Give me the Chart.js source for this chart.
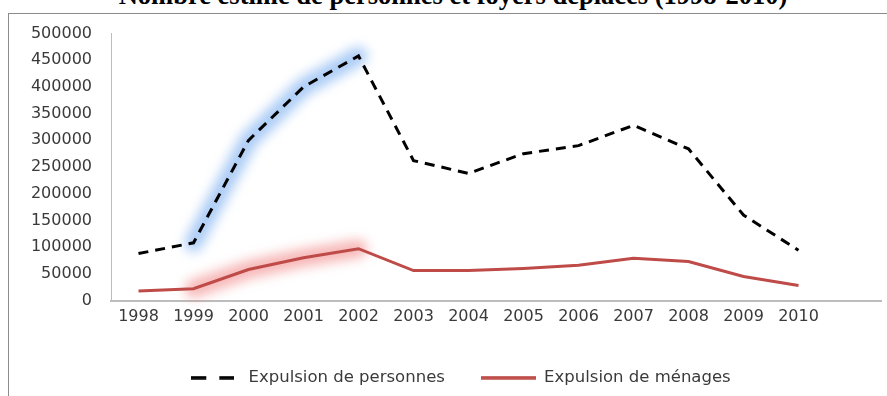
<!DOCTYPE html>
<html>
<head>
<meta charset="utf-8">
<script src="https://cdn.jsdelivr.net/npm/chart.js@4.4.0/dist/chart.umd.min.js"></script>
<style>
  html, body { margin: 0; padding: 0; background: #fff; overflow: hidden; width: 887px; height: 396px; }
  #titre {
    position: absolute; left: 0; width: 906px; top: -18px; text-align: center;
    font: bold 26.5px "Liberation Serif", "Times New Roman", serif; line-height: 26px; color: #000;
    white-space: nowrap;
  }
  #cadre {
    position: absolute; left: 8px; top: 13px; width: 960px; height: 400px;
    border-left: 1px solid #8c8c8c; border-top: 1px solid #8c8c8c;
  }
  #graphique { position: absolute; left: 0; top: 0; }
</style>
</head>
<body>
<div id="titre">Nombre estimé de personnes et foyers déplacés (1998-2010)</div>
<div id="cadre"><canvas id="graphique" width="949" height="382"></canvas></div>
<script>
// annees (la derniere case est vide, comme dans l'original)
const annees = ['1998', '1999', '2000', '2001', '2002', '2003', '2004', '2005', '2006', '2007', '2008', '2009', '2010', ''];
const personnes = [88000, 108000, 300000, 400000, 458000, 262000, 238000, 275000, 290000, 328000, 284000, 160000, 94000];
const menages = [18000, 22000, 58000, 80000, 97000, 56000, 56000, 60000, 66000, 79000, 73000, 45000, 28000];
const ticksY = [0, 50000, 100000, 150000, 200000, 250000, 300000, 350000, 400000, 450000, 500000];

// petits traits pour la legende
function trait(couleur, largeur, tirets) {
    const c = document.createElement('canvas');
    c.width = largeur;
    c.height = 4;
    const g = c.getContext('2d');
    g.strokeStyle = couleur;
    g.lineWidth = 3.5;
    g.setLineDash(tirets);
    g.beginPath();
    g.moveTo(0, 2);
    g.lineTo(largeur, 2);
    g.stroke();
    return c;
}
const traits = [trait('#000000', 43, [15, 13]), trait('#be4b48', 55, [])];

// halo flou derriere une partie des courbes (1999 -> 2002)
const halo = {
    id: 'halo',
    beforeDatasetsDraw(chart) {
        const ctx = chart.ctx;
        chart.data.datasets.forEach((ds, i) => {
            if (!ds.haloColor) return;
            const pts = chart.getDatasetMeta(i).data;
            ctx.save();
            ctx.filter = 'blur(6px)';
            ctx.strokeStyle = ds.haloColor;
            ctx.lineWidth = 18;
            ctx.lineCap = 'round';
            ctx.lineJoin = 'round';
            ctx.beginPath();
            for (let k = ds.haloFrom; k <= ds.haloTo; k++) {
                if (k == ds.haloFrom) ctx.moveTo(pts[k].x, pts[k].y);
                else ctx.lineTo(pts[k].x, pts[k].y);
            }
            ctx.stroke();
            ctx.restore();
        });
    }
};

// la legende est un peu decalee vers la droite dans l'original
const decaleLegende = {
    id: 'decaleLegende',
    afterLayout(chart) {
        chart.legend.left += 13;
        chart.legend.right += 13;
    }
};

const data = {
    labels: annees,
    datasets: [{
        label: 'Expulsion de personnes',
        data: personnes,
        borderColor: '#000000',
        backgroundColor: '#000000',
        borderWidth: 3,
        borderDash: [10, 7],
        pointRadius: 0,
        tension: 0,
        haloColor: 'rgba(100,160,238,0.55)',
        haloFrom: 1,
        haloTo: 4
    }, {
        label: 'Expulsion de ménages',
        data: menages,
        borderColor: '#be4b48',
        backgroundColor: '#be4b48',
        borderWidth: 3,
        pointRadius: 0,
        tension: 0,
        haloColor: 'rgba(240,110,110,0.5)',
        haloFrom: 1,
        haloTo: 4
    }]
};

const config = {
    type: 'line',
    data: data,
    plugins: [halo, decaleLegende],
    options: {
        responsive: false,
        animation: false,
        layout: { padding: { top: 19.5, right: 77, left: 0, bottom: 0 } },
        plugins: {
            title: { display: false },
            tooltip: { enabled: false },
            legend: {
                position: 'bottom',
                labels: {
                    usePointStyle: true,
                    pointStyleWidth: 55,
                    padding: 36,
                    color: '#3a3a3a',
                    font: { family: 'DejaVu Sans', size: 16.5 },
                    generateLabels: (chart) => {
                        const items = Chart.defaults.plugins.legend.labels.generateLabels(chart);
                        items.forEach((it, i) => { it.pointStyle = traits[i]; });
                        return items;
                    }
                }
            }
        },
        scales: {
            x: {
                offset: true,
                grid: { display: false, drawTicks: false },
                border: { display: true, color: '#bdbdbd', width: 2 },
                ticks: {
                    padding: 7, maxRotation: 0, autoSkip: false,
                    color: '#3a3a3a', font: { family: 'DejaVu Sans', size: 16 }
                },
                afterFit: (s) => { s.height = 33; }
            },
            y: {
                min: 0,
                max: 500000,
                afterBuildTicks: (s) => { s.ticks = ticksY.map(v => ({ value: v })); },
                grid: { display: false, drawTicks: false },
                border: { display: true, color: '#bdbdbd', width: 1 },
                ticks: {
                    padding: 19,
                    color: '#3a3a3a', font: { family: 'DejaVu Sans', size: 16 },
                    callback: (v) => String(v)
                },
                afterFit: (s) => {
                    s.width = 102;
                    s.paddingTop = 9;
                    s.paddingBottom = 9;
                }
            }
        }
    }
};

const monGraphique = new Chart(document.getElementById('graphique'), config);
</script>
</body>
</html>
